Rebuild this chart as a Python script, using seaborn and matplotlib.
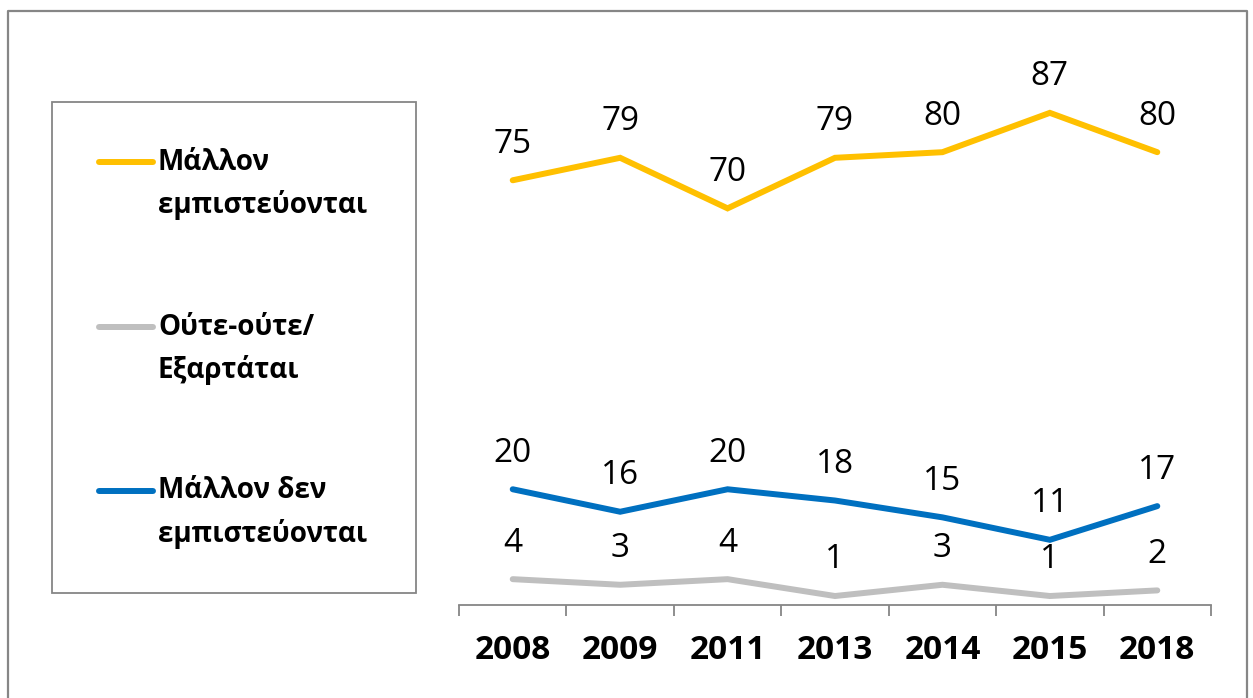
import matplotlib
matplotlib.use("Agg")
import matplotlib.pyplot as plt
import seaborn as sns
import pandas as pd
from matplotlib.lines import Line2D
from matplotlib.patches import Rectangle

years = ["2008", "2009", "2011", "2013", "2014", "2015", "2018"]
series_names = ["Μάλλον\nεμπιστεύονται", "Ούτε-ούτε/\nΕξαρτάται", "Μάλλον δεν\nεμπιστεύονται"]
trust = [75, 79, 70, 79, 80, 87, 80]
neutral = [4, 3, 4, 1, 3, 1, 2]
distrust = [20, 16, 20, 18, 15, 11, 17]
colors = ["#FFC000", "#BFBFBF", "#0070C0"]

sns.set_theme(style="white")
plt.rcParams["font.family"] = ["Open Sans", "DejaVu Sans"]
plt.rcParams["text.color"] = "black"
plt.rcParams["xtick.color"] = "black"

rows = []
for name, vals in zip(series_names, [trust, neutral, distrust]):
    for i, (y, v) in enumerate(zip(years, vals)):
        rows.append({"idx": i, "year": y, "value": v, "series": name})
df = pd.DataFrame(rows)

fig = plt.figure(figsize=(12.53, 6.98), dpi=100)
ax = fig.add_axes([459 / 1253, 93 / 698, 752 / 1253, 509 / 698])

sns.lineplot(data=df, x="idx", y="value", hue="series", hue_order=series_names,
             palette=colors, linewidth=4.3, ax=ax, legend=False, sort=False)
for ln in ax.lines:
    ln.set_solid_capstyle("round")
    ln.set_solid_joinstyle("miter")

for vals in [trust, neutral, distrust]:
    for i, v in enumerate(vals):
        ax.annotate(str(v), (i, v), xytext=(0, 26), textcoords="offset points",
                    ha="center", va="center", fontsize=24, color="black")

ax.set_xlim(-0.5, len(years) - 0.5)
ax.set_ylim(-0.6, 90)
ax.set_yticks([])
ax.set_xticks(range(len(years)))
ax.set_xticklabels(years, fontsize=24, fontweight="bold", color="black")
ax.set_xticks([i - 0.5 for i in range(len(years) + 1)], minor=True)
ax.tick_params(axis="x", which="major", length=0, pad=21)
ax.tick_params(axis="x", which="minor", length=8, width=1.3, color="#868686", bottom=True)
ax.set_xlabel("")
ax.set_ylabel("")
for s in ["top", "right", "left"]:
    ax.spines[s].set_visible(False)
ax.spines["bottom"].set_color("#868686")
ax.spines["bottom"].set_linewidth(1.3)

# outer border
W, H = 1253, 698
def fx(p): return p / W
def fy(p): return 1 - p / H
border = Line2D([fx(8), fx(8), fx(1247), fx(1247)], [fy(700), fy(11), fy(11), fy(700)],
                transform=fig.transFigure, color="#868686", linewidth=1.6)
fig.add_artist(border)

# legend box
fig.add_artist(Rectangle((fx(52), fy(593)), fx(416) - fx(52), fy(102) - fy(593),
                         transform=fig.transFigure, fill=False, edgecolor="#868686", linewidth=1.3))
for name, c, yp in zip(series_names, colors, [162, 327, 491]):
    fig.add_artist(Line2D([fx(99), fx(153)], [fy(yp), fy(yp)], transform=fig.transFigure,
                          color=c, linewidth=4.3, solid_capstyle="round"))
    l1, l2 = name.split("\n")
    fig.text(fx(158), fy(yp), l1, fontsize=20, fontweight="bold", va="center", ha="left", color="black")
    fig.text(fx(158), fy(yp + 43), l2, fontsize=20, fontweight="bold", va="center", ha="left", color="black")

fig.savefig("out.png", dpi=100)
